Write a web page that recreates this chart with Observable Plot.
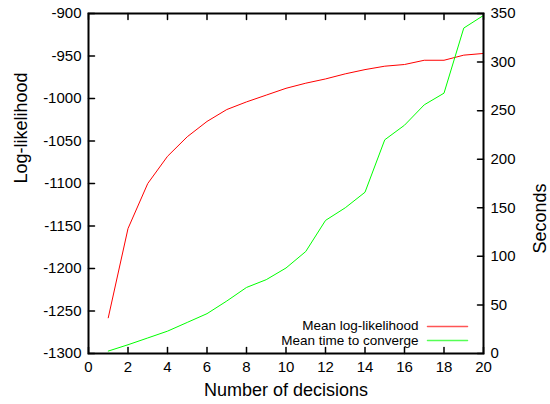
<!DOCTYPE html>
<html>
<head>
<meta charset="utf-8">
<script src="https://cdn.jsdelivr.net/npm/d3@7"></script>
<script src="https://cdn.jsdelivr.net/npm/@observablehq/plot@0.6"></script>
<style>
  html, body { margin: 0; padding: 0; background: #fff; }
  #chart svg { display: block; }
</style>
</head>
<body>
<div id="chart"></div>
<script>
// Number of decisions on the x axis
const decisions = [1, 2, 3, 4, 5, 6, 7, 8, 9, 10, 11, 12, 13, 14, 15, 16, 17, 18, 19, 20];
// Mean log-likelihood (left axis)
const logLikelihood = [-1258, -1153, -1100, -1068, -1045, -1027, -1013, -1004, -996, -988,
                       -982, -977, -971, -966, -962, -960, -955, -955, -949, -947];
// Mean time to converge, in seconds (right axis)
const seconds = [2.5, 9, 16, 23, 32, 41, 54, 68, 76, 88,
                 105, 137, 150, 166, 220, 235, 256, 268, 335, 348];

const xTicks = [0, 2, 4, 6, 8, 10, 12, 14, 16, 18, 20];
const yTicks = [-1300, -1250, -1200, -1150, -1100, -1050, -1000, -950, -900];
const secondsTicks = [0, 50, 100, 150, 200, 250, 300, 350];
const seriesNames = ["Mean log-likelihood", "Mean time to converge"];

// The seconds axis shares the plot area: map [0, 350] onto [-1300, -900]
const yLo = -1300, yHi = -900, sHi = 350;
const toY = (s) => yLo + (s * (yHi - yLo)) / sHi;
const fromY = (y) => ((y - yLo) * sHi) / (yHi - yLo);

const rows = decisions.map((d, i) => ({ d, ll: logLikelihood[i], s: toY(seconds[i]) }));

// Plain tick segment for vectors (no arrowhead)
const segment = { draw(context, l) { context.moveTo(0, 0); context.lineTo(0, -l); } };
const tick = { length: 6, anchor: "start", shape: segment, stroke: "black", strokeWidth: 1.5 };

const font = "'Liberation Sans', Arial, Helvetica, sans-serif";

const chart = Plot.plot({
  width: 550,
  height: 404,
  marginLeft: 88,
  marginRight: 67,
  marginTop: 13,
  marginBottom: 51,
  style: { fontFamily: font, fontSize: "15px", color: "black", background: "white" },
  x: { domain: [0, 20] },
  y: { domain: [yLo, yHi] },
  marks: [
    // data series
    Plot.line(rows, { x: "d", y: "ll", stroke: "#ff0000", strokeWidth: 1 }),
    Plot.line(rows, { x: "d", y: "s", stroke: "#00ff00", strokeWidth: 1 }),

    // inward ticks on all four sides
    Plot.vector(yTicks, { ...tick, y: (d) => d, frameAnchor: "left", rotate: 90 }),
    Plot.vector(secondsTicks.map(toY), { ...tick, y: (d) => d, frameAnchor: "right", rotate: -90 }),
    Plot.vector(xTicks, { ...tick, x: (d) => d, frameAnchor: "bottom", rotate: 0 }),
    Plot.vector(xTicks, { ...tick, x: (d) => d, frameAnchor: "top", rotate: 180 }),

    // tick labels
    Plot.axisY(yTicks, { anchor: "left", tickSize: 0, tickPadding: 7, tickFormat: (d) => String(d), label: null }),
    Plot.axisY(secondsTicks.map(toY), {
      anchor: "right", tickSize: 0, tickPadding: 7,
      tickFormat: (d) => String(Math.round(fromY(d))), label: null
    }),
    Plot.axisX(xTicks, { anchor: "bottom", tickSize: 0, tickPadding: 8, tickFormat: (d) => String(d), label: null }),

    // axis titles
    Plot.text(["Number of decisions"], { frameAnchor: "bottom", dy: 37, fontSize: 18, lineAnchor: "middle" }),
    Plot.text(["Log-likelihood"], { frameAnchor: "left", dx: -67, rotate: -90, fontSize: 18, lineAnchor: "middle" }),
    Plot.text(["Seconds"], { frameAnchor: "right", dx: 57, rotate: -90, fontSize: 18, lineAnchor: "middle" }),

    // key
    Plot.text([seriesNames[0]], { frameAnchor: "bottom-right", dx: -65, dy: -27.5, textAnchor: "end", lineAnchor: "middle", fontSize: 13.5 }),
    Plot.text([seriesNames[1]], { frameAnchor: "bottom-right", dx: -65, dy: -12.5, textAnchor: "end", lineAnchor: "middle", fontSize: 13.5 }),
    Plot.vector([seriesNames[0]], { frameAnchor: "bottom-right", dx: -16, dy: -27, rotate: 90, length: 40, anchor: "end", shape: segment, stroke: "#ff5555", strokeWidth: 1.5 }),
    Plot.vector([seriesNames[1]], { frameAnchor: "bottom-right", dx: -16, dy: -13, rotate: 90, length: 40, anchor: "end", shape: segment, stroke: "#55ff55", strokeWidth: 1.5 }),

    // border
    Plot.frame({ stroke: "black", strokeWidth: 2 })
  ]
});

document.getElementById("chart").append(chart);
</script>
</body>
</html>
